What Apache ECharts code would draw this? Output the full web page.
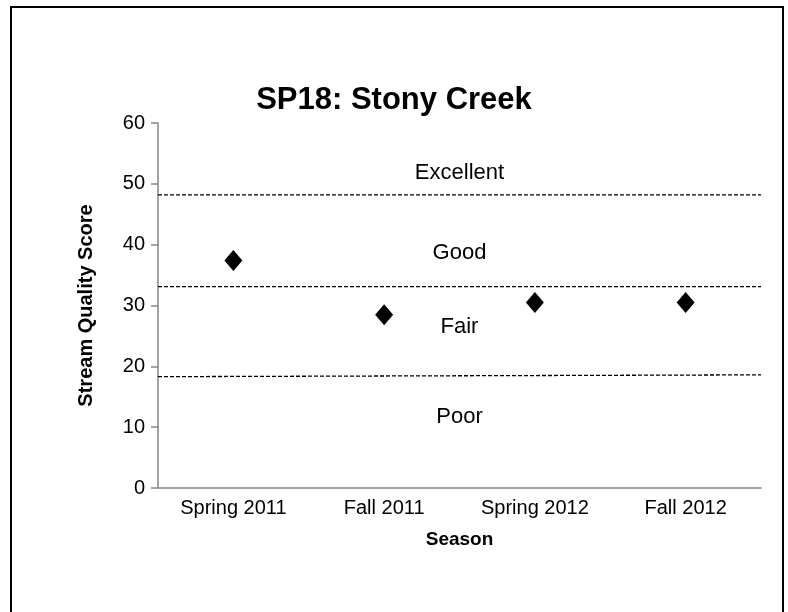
<!DOCTYPE html>
<html>
<head>
<meta charset="utf-8">
<script src="https://cdn.jsdelivr.net/npm/echarts@6/dist/echarts.min.js"></script>
<style>
  html, body { margin: 0; padding: 0; background: #fff; }
  #chart { width: 788px; height: 612px; }
</style>
</head>
<body>
<div id="chart"></div>
<script>
// data
var seasons = ['Spring 2011', 'Fall 2011', 'Spring 2012', 'Fall 2012'];
var scores = [37.4, 28.5, 30.5, 30.5];
var yTicks = [0, 10, 20, 30, 40, 50, 60];
// class boundaries (left end, right end)
var excellentLine = [48.2, 48.2];
var goodLine = [33.1, 33.1];
var fairLine = [18.3, 18.6];
var bandNames = ['Excellent', 'Good', 'Fair', 'Poor'];
var bandLabelY = [51.8, 38.6, 26.5, 11.6];

var font = "'Liberation Sans', Arial, sans-serif";

var chart = echarts.init(document.getElementById('chart'));

function boundary(vals) {
  return {
    type: 'line',
    xAxisIndex: 1,
    data: [[0, vals[0]], [1, vals[1]]],
    symbol: 'none',
    silent: true,
    lineStyle: { color: '#000', width: 1.3, type: [4, 2] }
  };
}

var option = {
  animation: false,
  title: {
    text: 'SP18: Stony Creek',
    left: 'center',
    top: 80,
    textStyle: { fontFamily: font, fontSize: 31, fontWeight: 'bold', color: '#000' }
  },
  graphic: [{
    type: 'rect',
    shape: { x: 11, y: 7, width: 772, height: 620 },
    style: { fill: 'none', stroke: '#000', lineWidth: 2 },
    silent: true
  }],
  grid: { left: 158, right: 27, top: 123, bottom: 124 },
  xAxis: [{
    type: 'category',
    data: seasons,
    name: 'Season',
    nameLocation: 'middle',
    nameGap: 42,
    nameTextStyle: { fontFamily: font, fontSize: 19, fontWeight: 'bold', color: '#000' },
    axisLine: { lineStyle: { color: '#868686', width: 1.5 } },
    axisTick: { show: false },
    axisLabel: { fontFamily: font, fontSize: 20, color: '#000', margin: 10 }
  }, {
    type: 'value',
    min: 0,
    max: 1,
    show: false
  }],
  yAxis: {
    type: 'value',
    min: yTicks[0],
    max: yTicks[yTicks.length - 1],
    interval: 10,
    name: 'Stream Quality Score',
    nameLocation: 'middle',
    nameGap: 62,
    nameTextStyle: { fontFamily: font, fontSize: 20, fontWeight: 'bold', color: '#000' },
    axisLine: { show: true, lineStyle: { color: '#868686', width: 1.5 } },
    axisTick: { show: true, length: 7, lineStyle: { color: '#868686', width: 1.5 } },
    axisLabel: { fontFamily: font, fontSize: 20, color: '#000', margin: 13 },
    splitLine: { show: false }
  },
  series: [
    boundary(excellentLine),
    boundary(goodLine),
    boundary(fairLine),
    {
      type: 'scatter',
      xAxisIndex: 1,
      symbolSize: 0,
      silent: true,
      itemStyle: { opacity: 1 },
      data: bandLabelY.map(function (v, i) { return { value: [0.5, v], name: bandNames[i] }; }),
      label: {
        show: true,
        position: 'inside',
        formatter: '{b}',
        fontFamily: font,
        fontSize: 22,
        color: '#000'
      }
    },
    {
      name: 'Score',
      type: 'scatter',
      data: scores,
      symbol: 'diamond',
      symbolSize: [18, 21],
      itemStyle: { color: '#000', opacity: 1 }
    }
  ]
};

chart.setOption(option);
</script>
</body>
</html>
